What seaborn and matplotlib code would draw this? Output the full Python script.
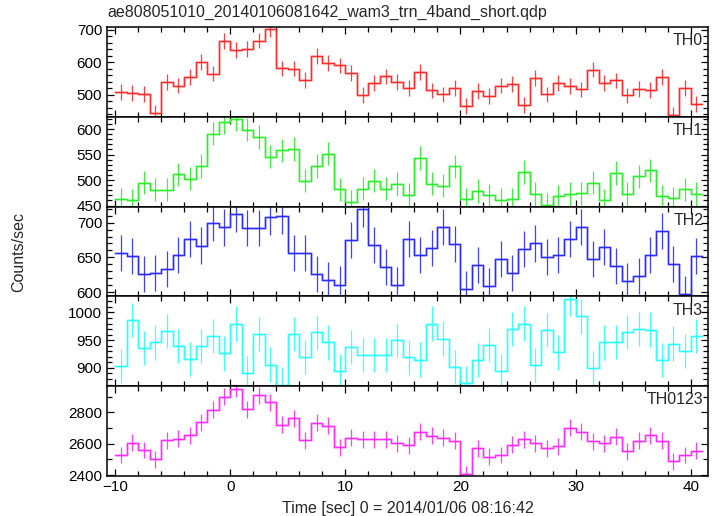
import numpy as np
import pandas as pd
import matplotlib
matplotlib.use("Agg")
import matplotlib.pyplot as plt
import seaborn as sns
from matplotlib.ticker import MultipleLocator

title = "ae808051010_20140106081642_wam3_trn_4band_short.qdp"
xlabel = "Time [sec] 0 = 2014/01/06 08:16:42"
ylabel = "Counts/sec"

bin_start = np.arange(-10, 41)   # 1-s bins from -10 to 41
bin_width = 1.0

th0 = [509, 505, 502, 444, 539, 528, 554, 600, 565, 665, 638, 640, 666, 702, 581, 580, 545, 618, 597, 590,
       567, 499, 536, 556, 539, 521, 569, 513, 501, 521, 466, 512, 496, 528, 533, 468, 551, 501, 535, 527,
       516, 577, 535, 544, 498, 517, 514, 554, 437, 521, 472]
th1 = [462, 460, 495, 481, 481, 511, 503, 528, 591, 613, 620, 599, 584, 546, 558, 561, 499, 528, 552, 482,
       457, 483, 499, 483, 492, 471, 543, 493, 489, 527, 462, 479, 470, 461, 462, 516, 473, 451, 468, 473,
       474, 495, 460, 514, 473, 507, 519, 468, 464, 482, 473]
th2 = [656, 652, 626, 628, 633, 653, 676, 667, 700, 693, 713, 692, 692, 708, 710, 656, 656, 626, 617, 611,
       675, 720, 668, 636, 610, 677, 653, 663, 694, 669, 604, 639, 609, 648, 628, 662, 670, 651, 654, 677,
       694, 648, 665, 638, 616, 623, 653, 688, 640, 597, 652]
th3 = [903, 986, 936, 946, 967, 939, 916, 940, 958, 926, 980, 890, 961, 906, 870, 961, 920, 964, 946, 894,
       938, 923, 923, 923, 950, 919, 915, 980, 953, 902, 872, 914, 941, 894, 970, 980, 905, 968, 928, 1025,
       993, 899, 946, 947, 965, 970, 969, 914, 944, 930, 957]
th0123 = [2528, 2606, 2560, 2500, 2621, 2632, 2653, 2738, 2817, 2902, 2953, 2821, 2909, 2864, 2723, 2762,
          2623, 2734, 2715, 2577, 2638, 2628, 2628, 2628, 2602, 2591, 2677, 2651, 2638, 2619, 2404, 2570,
          2517, 2528, 2594, 2628, 2602, 2570, 2585, 2702, 2677, 2615, 2602, 2645, 2553, 2619, 2655, 2619,
          2489, 2528, 2555]

names = ["TH0", "TH1", "TH2", "TH3", "TH0123"]
series = [th0, th1, th2, th3, th0123]
errors = [24, 23, 26, 31, 54]
colors = ["#ff2a2a", "#2aee2a", "#2a2aff", "#2affff", "#ff2aff"]
ylims = [(432, 708), (448, 624), (594, 723), (867, 1029), (2394, 2968)]
major = [100, 50, 50, 50, 200]
minor = [20, 10, 10, 10, 100]

sns.set_theme(style="ticks")
plt.rcParams["font.family"] = ["Liberation Sans", "DejaVu Sans"]

fig = plt.figure(figsize=(7.17, 5.16), dpi=100)
left, right = 107 / 717, 708 / 717
top, bottom = 1 - 27 / 516, 1 - 476 / 516
h = (top - bottom) / 5

edges = np.append(bin_start, bin_start[-1] + bin_width)
centers = bin_start + bin_width / 2

axes = []
for i, (name, vals, err, col) in enumerate(zip(names, series, errors, colors)):
    ax = fig.add_axes([left, top - (i + 1) * h, right - left, h])
    axes.append(ax)
    df = pd.DataFrame({"t": edges, "v": list(vals) + [vals[-1]]})
    sns.lineplot(data=df, x="t", y="v", ax=ax, drawstyle="steps-post", color=col, lw=2.0, alpha=0.3)
    sns.lineplot(data=df, x="t", y="v", ax=ax, drawstyle="steps-post", color=col, lw=0.9)
    ax.errorbar(centers, vals, yerr=err, fmt="none", ecolor=col, elinewidth=0.9, alpha=0.9)
    ax.set_xlim(-10.7, 41.5)
    ax.set_ylim(*ylims[i])
    ax.yaxis.set_major_locator(MultipleLocator(major[i]))
    ax.yaxis.set_minor_locator(MultipleLocator(minor[i]))
    ax.xaxis.set_major_locator(MultipleLocator(10))
    ax.xaxis.set_minor_locator(MultipleLocator(2))
    ax.tick_params(which="both", direction="in", top=True, right=True, labelsize=11, colors="black")
    ax.tick_params(which="major", length=5, width=0.9)
    ax.tick_params(which="minor", length=3.5, width=0.9)
    for s in ax.spines.values():
        s.set_linewidth(1.1)
        s.set_color("black")
    ax.set_xlabel("")
    ax.set_ylabel("")
    if i < 4:
        ax.tick_params(labelbottom=False)
    ax.text(0.992, 0.93, name, transform=ax.transAxes, ha="right", va="top", fontsize=11.5)

axes[-1].tick_params(axis="x", pad=3)
fig.text(left, 1 - 5 / 516, title, ha="left", va="top", fontsize=11.5)
fig.text(19 / 717, (top + bottom) / 2, ylabel, rotation=90, ha="center", va="center", fontsize=11.5)
fig.text((left + right) / 2, 1 - 508 / 516, xlabel, ha="center", va="center", fontsize=11.5)

fig.savefig("out.png", dpi=100)
